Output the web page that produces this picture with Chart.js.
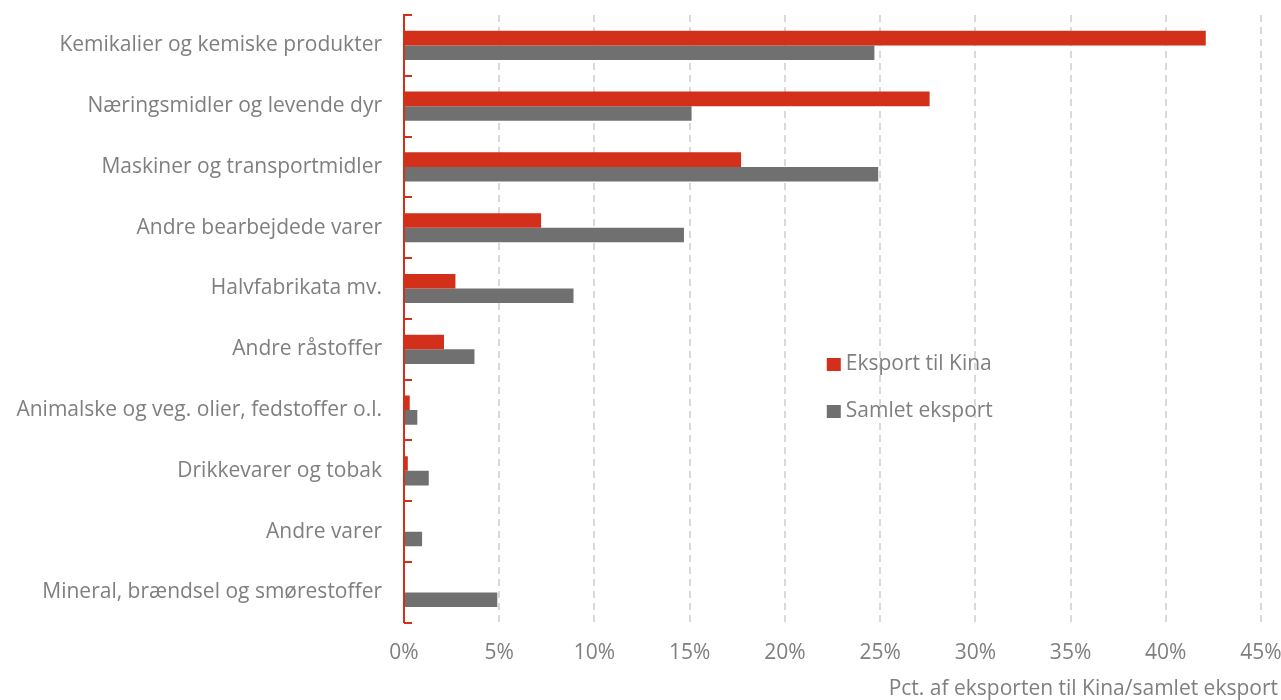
<!DOCTYPE html>
<html>
<head>
<meta charset="utf-8">
<script src="https://cdn.jsdelivr.net/npm/chart.js@4/dist/chart.umd.min.js"></script>
<style>
  html, body { margin: 0; padding: 0; background: #fff; }
  #wrap { width: 1281px; height: 700px; }
</style>
</head>
<body>
<div id="wrap"><canvas id="grafico" width="1281" height="700"></canvas></div>
<script>
const kategorier = [
    'Kemikalier og kemiske produkter',
    'Næringsmidler og levende dyr',
    'Maskiner og transportmidler',
    'Andre bearbejdede varer',
    'Halvfabrikata mv.',
    'Andre råstoffer',
    'Animalske og veg. olier, fedstoffer o.l.',
    'Drikkevarer og tobak',
    'Andre varer',
    'Mineral, brændsel og smørestoffer'
];
const eksportKina = [42.1, 27.6, 17.7, 7.2, 2.7, 2.1, 0.3, 0.2, 0, 0];
const samletEksport = [24.7, 15.1, 24.9, 14.7, 8.9, 3.7, 0.7, 1.3, 0.95, 4.9];

const RED = '#d2301a';
const GRAY = '#707070';
const TEXT = '#7f7f7f';
const FONT = "'Open Sans', sans-serif";

// small inward ticks on the category axis between groups
const kategoriTicks = {
    id: 'kategoriTicks',
    afterDatasetsDraw(chart) {
        const y = chart.scales.y;
        const x0 = chart.scales.x.getPixelForValue(0);
        const ctx = chart.ctx;
        const n = kategorier.length;
        const step = (y.bottom - y.top) / n;
        ctx.save();
        ctx.strokeStyle = RED;
        ctx.lineWidth = 2;
        for (let i = 0; i <= n; i++) {
            const py = Math.round(y.top + i * step);
            ctx.beginPath();
            ctx.moveTo(x0, py);
            ctx.lineTo(x0 + 8, py);
            ctx.stroke();
        }
        ctx.restore();
    }
};

// legend drawn inside the plot area
const legendeInde = {
    id: 'legendeInde',
    afterDraw(chart) {
        const ctx = chart.ctx;
        const x = chart.scales.x.getPixelForValue(22.2);
        const rows = [364, 411];
        ctx.save();
        ctx.font = '21px ' + FONT;
        ctx.textBaseline = 'middle';
        chart.data.datasets.forEach((ds, i) => {
            ctx.fillStyle = ds.backgroundColor;
            ctx.fillRect(x, rows[i] - 6, 14, 13);
            ctx.fillStyle = TEXT;
            ctx.fillText(ds.label, x + 19, rows[i]);
        });
        ctx.restore();
    }
};

new Chart(document.getElementById('grafico'), {
    type: 'bar',
    data: {
        labels: kategorier,
        datasets: [
            {
                label: 'Eksport til Kina',
                data: eksportKina,
                backgroundColor: RED,
                categoryPercentage: 0.48,
                barPercentage: 1.0
            },
            {
                label: 'Samlet eksport',
                data: samletEksport,
                backgroundColor: GRAY,
                categoryPercentage: 0.48,
                barPercentage: 1.0
            }
        ]
    },
    options: {
        indexAxis: 'y',
        responsive: false,
        animation: false,
        layout: { padding: { top: 15, right: 3, bottom: 0, left: 0 } },
        scales: {
            x: {
                min: 0,
                max: 45,
                afterFit: s => { s.height = 42; s.paddingRight = 20; },
                ticks: {
                    stepSize: 5,
                    padding: 18,
                    color: TEXT,
                    font: { family: FONT, size: 21 },
                    callback: v => v + '%'
                },
                grid: {
                    color: '#d9d9d9',
                    lineWidth: 2,
                    drawTicks: false
                },
                border: { display: false, dash: [7, 5] }
            },
            y: {
                afterFit: s => { s.width = 404; s.paddingTop = 0; s.paddingBottom = 0; },
                ticks: {
                    padding: 14,
                    color: TEXT,
                    font: { family: FONT, size: 21 }
                },
                grid: { display: false },
                border: { display: true, color: RED, width: 2 }
            }
        },
        plugins: {
            legend: { display: false },
            tooltip: { enabled: false },
            title: {
                display: true,
                position: 'bottom',
                align: 'end',
                text: 'Pct. af eksporten til Kina/samlet eksport',
                color: TEXT,
                font: { family: FONT, size: 21, weight: 'normal' },
                padding: { top: 12, bottom: -2 }
            }
        }
    },
    plugins: [kategoriTicks, legendeInde]
});
</script>
</body>
</html>
